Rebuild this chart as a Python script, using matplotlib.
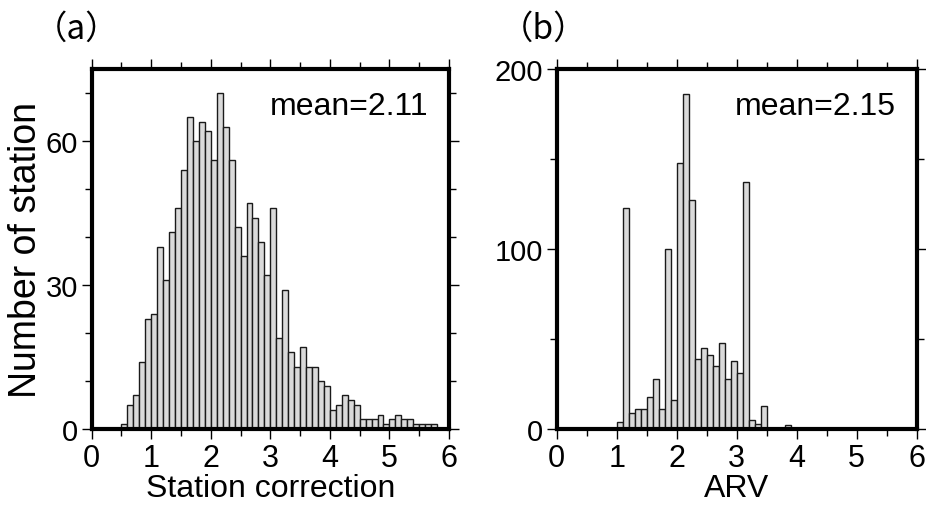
import matplotlib
matplotlib.use("Agg")
import matplotlib.pyplot as plt
from matplotlib.ticker import MultipleLocator

plt.rcParams['font.family'] = ['Liberation Sans', 'DejaVu Sans']

# Panel (a): station correction histogram (bin width 0.1)
a_bin_left = [0.5, 0.6, 0.7, 0.8, 0.9, 1.0, 1.1, 1.2, 1.3, 1.4, 1.5, 1.6, 1.7, 1.8, 1.9,
              2.0, 2.1, 2.2, 2.3, 2.4, 2.5, 2.6, 2.7, 2.8, 2.9, 3.0, 3.1, 3.2, 3.3, 3.4,
              3.5, 3.6, 3.7, 3.8, 3.9, 4.0, 4.1, 4.2, 4.3, 4.4, 4.5, 4.6, 4.7, 4.8, 4.9,
              5.0, 5.1, 5.2, 5.3, 5.4, 5.5, 5.6, 5.7]
a_counts = [1, 5, 7, 14, 23, 24, 38, 31, 41, 46, 54, 65, 60, 64, 62,
            56, 70, 63, 56, 42, 36, 47, 44, 39, 32, 46, 19, 29, 16, 13,
            17, 13, 13, 10, 9, 4, 5, 7, 6, 5, 2, 2, 2, 3, 1,
            2, 3, 2, 2, 1, 1, 1, 1]

# Panel (b): ARV histogram (bin width 0.1)
b_bin_left = [1.0, 1.1, 1.2, 1.3, 1.4, 1.5, 1.6, 1.7, 1.8, 1.9, 2.0, 2.1, 2.2, 2.3,
              2.4, 2.5, 2.6, 2.7, 2.8, 2.9, 3.0, 3.1, 3.2, 3.3, 3.4, 3.8]
b_counts = [4, 123, 9, 11, 11, 18, 28, 11, 100, 16, 148, 186, 127, 39,
            45, 41, 35, 48, 28, 38, 31, 137, 5, 3, 13, 2]

bin_width = 0.1
x_ticks = [0, 1, 2, 3, 4, 5, 6]
a_yticks = [0, 30, 60]
b_yticks = [0, 100, 200]
a_mean = "mean=2.11"
b_mean = "mean=2.15"
xlabel_a = "Station correction"
xlabel_b = "ARV"
ylabel_a = "Number of station"

fig = plt.figure(figsize=(9.26, 5.06), dpi=100)
ax_a = fig.add_axes([91.7/926, 76/506, (449-91.7)/926, 360/506])
ax_b = fig.add_axes([556.7/926, 76/506, 360/926, 360/506])

FILL = '#dadada'
EDGE = '#1a1a1a'

def style(ax, ymax, yminor, yticks):
    ax.set_xlim(0, 6)
    ax.set_ylim(0, ymax)
    ax.set_xticks(x_ticks)
    ax.set_xticklabels([str(t) for t in x_ticks])
    ax.xaxis.set_minor_locator(MultipleLocator(0.5))
    ax.set_yticks(yticks)
    ax.set_yticklabels([str(t) for t in yticks])
    ax.yaxis.set_minor_locator(MultipleLocator(yminor))
    for s in ax.spines.values():
        s.set_linewidth(3.0)
        s.set_color('black')
    ax.tick_params(which='both', direction='out', top=True, right=True,
                   width=1.0, color='black', pad=3)
    ax.tick_params(axis='x', labelsize=22)
    ax.tick_params(axis='y', labelsize=21)
    ax.tick_params(which='major', length=7)
    ax.tick_params(which='minor', length=5)

ax_a.bar(a_bin_left, a_counts, width=bin_width, align='edge', color=FILL,
         edgecolor=EDGE, linewidth=1.0, zorder=2)
style(ax_a, 75, 10, a_yticks)
ax_a.set_xlabel(xlabel_a, fontsize=23, labelpad=0)
ax_a.set_ylabel(ylabel_a, fontsize=27, labelpad=1)
ax_a.text(0.943, 0.94, a_mean, transform=ax_a.transAxes, ha='right', va='top', fontsize=23)

ax_b.bar(b_bin_left, b_counts, width=bin_width, align='edge', color=FILL,
         edgecolor=EDGE, linewidth=1.0, zorder=2)
style(ax_b, 200, 50, b_yticks)
ax_b.set_xlabel(xlabel_b, fontsize=23, labelpad=0)
ax_b.text(0.943, 0.94, b_mean, transform=ax_b.transAxes, ha='right', va='top', fontsize=23)

fig.text(0.036, 0.943, "（a）", ha='left', va='center', fontsize=24,
         family=['Noto Sans CJK JP', 'DejaVu Sans'])
fig.text(0.540, 0.943, "（b）", ha='left', va='center', fontsize=24,
         family=['Noto Sans CJK JP', 'DejaVu Sans'])

fig.savefig("out.png", dpi=100)
